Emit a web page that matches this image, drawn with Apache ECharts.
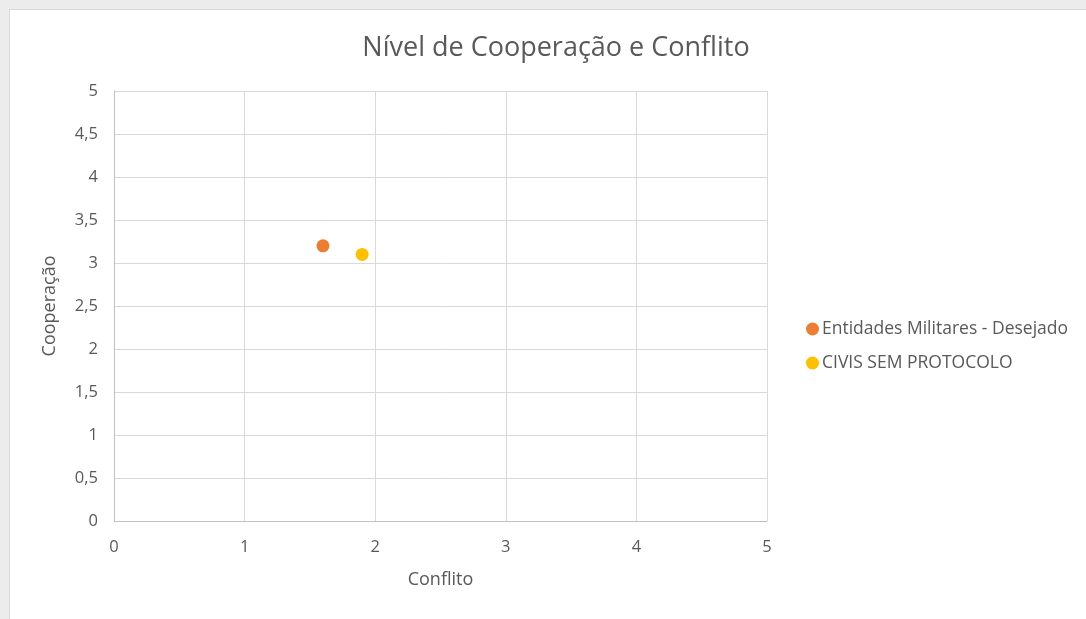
<!DOCTYPE html>
<html>
<head>
<meta charset="utf-8">
<script src="https://cdn.jsdelivr.net/npm/echarts@6/dist/echarts.min.js"></script>
<style>
  html, body { margin: 0; padding: 0; background: #ececec; }
  #frame { position: absolute; left: 9px; top: 9px; width: 1077px; height: 610px; background: #fff; border-left: 1px solid #d9d9d9; border-top: 1px solid #d9d9d9; box-sizing: border-box; }
  #chart { position: absolute; left: 0; top: 0; width: 1086px; height: 619px; }
</style>
</head>
<body>
<div id="frame"></div>
<div id="chart"></div>
<script>
// scatter
var seriesNames = ['Entidades Militares - Desejado', 'CIVIS SEM PROTOCOLO'];
var seriesColors = ['#ED7D31', '#FFC000'];
var militaresData = [[1.6, 3.2]];
var civisData = [[1.9, 3.1]];

var chart = echarts.init(document.getElementById('chart'));
var font = '"Open Sans", "Noto Sans", sans-serif';

var option = {
    backgroundColor: 'transparent',
    title: {
        text: 'Nível de Cooperação e Conflito',
        left: 551,
        textAlign: 'center',
        top: 30,
        textStyle: { fontFamily: font, fontSize: 27, fontWeight: 'normal', color: '#595959' }
    },
    legend: {
        orient: 'vertical',
        left: 801,
        top: 315,
        itemGap: 16,
        itemWidth: 13,
        itemHeight: 13,
        icon: 'circle',
        textStyle: { fontFamily: font, fontSize: 17.5, color: '#595959', padding: [0, 0, 0, -2] },
        data: seriesNames
    },
    grid: { left: 114, right: 319, top: 91, bottom: 98 },
    xAxis: {
        type: 'value',
        min: 0, max: 5, interval: 1,
        name: 'Conflito',
        nameLocation: 'middle',
        nameGap: 50,
        nameTextStyle: { fontFamily: font, fontSize: 18, color: '#595959' },
        axisLine: { lineStyle: { color: '#bfbfbf' } },
        axisTick: { show: false },
        axisLabel: { fontFamily: font, fontSize: 16.5, color: '#595959', margin: 18 },
        splitLine: { lineStyle: { color: '#d9d9d9' } }
    },
    yAxis: {
        type: 'value',
        min: 0, max: 5, interval: 0.5,
        name: 'Cooperação',
        nameLocation: 'middle',
        nameGap: 55,
        nameTextStyle: { fontFamily: font, fontSize: 18, color: '#595959' },
        axisLine: { show: true, lineStyle: { color: '#bfbfbf' } },
        axisTick: { show: false },
        axisLabel: {
            fontFamily: font, fontSize: 16.5, color: '#595959', margin: 16,
            formatter: function (v) { return String(v).replace('.', ','); }
        },
        splitLine: { lineStyle: { color: '#d9d9d9' } }
    },
    series: [
        {
            name: seriesNames[0],
            type: 'scatter',
            symbolSize: 13,
            itemStyle: { color: seriesColors[0], opacity: 1 },
            data: militaresData
        },
        {
            name: seriesNames[1],
            type: 'scatter',
            symbolSize: 13,
            itemStyle: { color: seriesColors[1], opacity: 1 },
            data: civisData
        }
    ]
};

chart.setOption(option);
</script>
</body>
</html>
